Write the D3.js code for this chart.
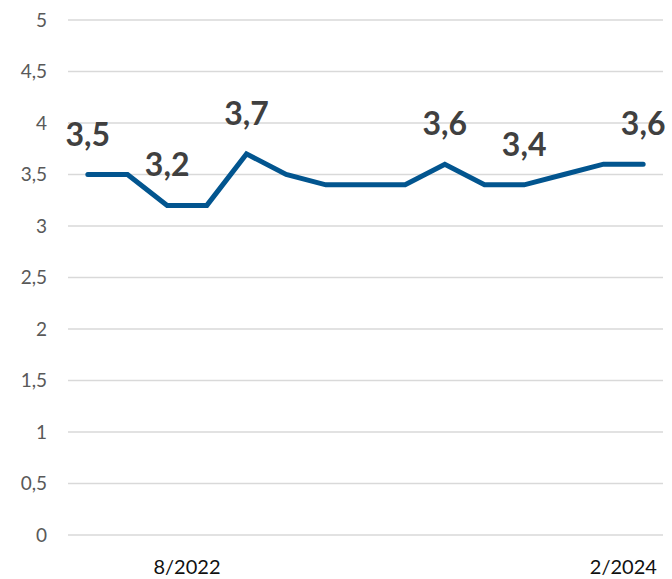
<!DOCTYPE html>
<head>
  <meta charset="utf-8">
  <script src="https://d3js.org/d3.v7.min.js"></script>
  <style>
    body { margin: 0; background: #fff; }
    .grid line { stroke: #d9d9d9; stroke-width: 1.5px; }
    .ylab { font-family: Lato, "Open Sans", sans-serif; font-size: 19px; fill: #595959; }
    .xlab { font-family: Lato, "Open Sans", sans-serif; font-size: 20px; fill: #111; }
    .vlab { font-family: Lato, "Open Sans", sans-serif; font-size: 32px; font-weight: bold; fill: #404040; }
  </style>
</head>

<body>
  <script>
    var width = 672;
    var height = 579;

    // one entry per period
    var periods = d3.range(15);
    var values = [3.5, 3.5, 3.2, 3.2, 3.7, 3.5, 3.4, 3.4, 3.4, 3.6, 3.4, 3.4, 3.5, 3.6, 3.6];
    // which points carry a value label
    var labelled = [0, 2, 4, 9, 11, 14];
    // x tick labels and the period they start at
    var xTickLabels = ["8/2022", "2/2024"];
    var xTickPeriods = [3, 14];
    var yTicks = [0, 0.5, 1, 1.5, 2, 2.5, 3, 3.5, 4, 4.5, 5];

    var fmt = function (v) { return String(v).replace(".", ","); };

    var svg = d3.select("body").append("svg")
        .attr("width", width)
        .attr("height", height);

    var x = d3.scaleBand().domain(periods).range([68, 663]).padding(0);
    var y = d3.scaleLinear().domain([0, 5]).range([535, 20]);

    svg.append("g").attr("class", "grid")
      .selectAll("line")
      .data(yTicks)
      .enter().append("line")
      .attr("x1", 68).attr("x2", 663)
      .attr("y1", function (d) { return y(d); })
      .attr("y2", function (d) { return y(d); });

    svg.selectAll("text.ylab")
      .data(yTicks)
      .enter().append("text")
      .attr("class", "ylab")
      .attr("x", 47)
      .attr("y", function (d) { return y(d) + 6.5; })
      .attr("text-anchor", "end")
      .text(fmt);

    svg.selectAll("text.xlab")
      .data(xTickLabels)
      .enter().append("text")
      .attr("class", "xlab")
      .attr("x", function (d, i) { return x(xTickPeriods[i]); })
      .attr("y", 574)
      .attr("text-anchor", "middle")
      .text(function (d) { return d; });

    var cx = function (i) { return x(i) + x.bandwidth() / 2; };

    var line = d3.line()
      .x(function (d, i) { return cx(i); })
      .y(function (d) { return y(d); });

    svg.append("path")
      .datum(values)
      .attr("d", line)
      .attr("fill", "none")
      .attr("stroke", "#02558f")
      .attr("stroke-width", 5)
      .attr("stroke-linejoin", "miter")
      .attr("stroke-linecap", "round");

    svg.selectAll("text.vlab")
      .data(labelled)
      .enter().append("text")
      .attr("class", "vlab")
      .attr("x", function (i) { return cx(i); })
      .attr("y", function (i) { return y(values[i]) - 29; })
      .attr("text-anchor", "middle")
      .text(function (i) { return fmt(values[i]); });
  </script>
</body>
